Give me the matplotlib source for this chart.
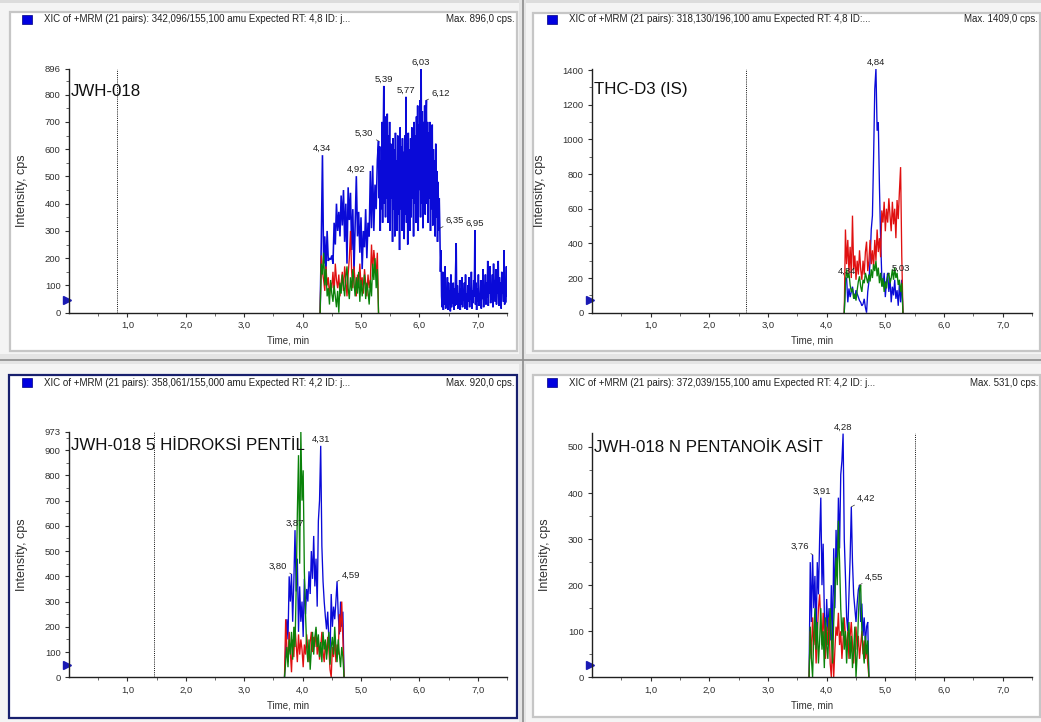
import numpy as np
import matplotlib
matplotlib.use('Agg')
import matplotlib.pyplot as plt
from matplotlib import font_manager
from matplotlib.patches import Rectangle
from matplotlib.ticker import FixedLocator

plt.rcParams['font.family'] = ['Liberation Sans', 'DejaVu Sans']

# compound names are set in a narrow face when one is available
_names = {f.name for f in font_manager.fontManager.ttflist}
if 'Liberation Sans Narrow' in _names:
    NAME_FONT, NAME_SIZE = ['Liberation Sans Narrow', 'DejaVu Sans'], 14.5
else:
    NAME_FONT, NAME_SIZE = ['Liberation Sans', 'DejaVu Sans'], 12.2

BLUE = '#0a0ad8'
RED = '#e01010'
GREEN = '#0a820a'

x_ticks = [1, 2, 3, 4, 5, 6, 7]
x_labels = ['1,0', '2,0', '3,0', '4,0', '5,0', '6,0', '7,0']
x_minor = [0.5, 1.5, 2.5, 3.5, 4.5, 5.5, 6.5, 7.5]

# ---------- JWH-018  342,096/155,100 ----------
# blue: 4.30-5.30 every 0.02 min, then 5.31-7.50 every 0.01 min
p1_blue_a = [0, 260, 578, 180, 280, 150, 300, 190, 200, 195, 210, 180, 330, 250, 400, 300,
             370, 280, 430, 320, 450, 260, 400, 180, 460, 340, 440, 230, 380, 150, 330, 501,
             280, 370, 220, 350, 160, 300, 240, 380, 200, 330, 280, 520, 310, 540, 300, 470,
             380, 560, 630]
p1_blue_b = [420, 610, 300, 560, 380, 700, 330, 640, 832, 400, 720, 350, 690, 420, 730, 330,
             650, 440, 700, 300, 620, 420, 580, 260, 640, 380, 600, 280, 660, 400, 560, 300,
             650, 360, 600, 230, 680, 380, 610, 300, 640, 420, 590, 270, 650, 360, 792, 330,
             620, 250, 660, 380, 600, 300, 640, 350, 680, 420, 610, 280, 700, 400, 650, 330,
             720, 420, 760, 300, 690, 450, 780, 350, 896, 400, 740, 310, 700, 430, 760, 360,
             680, 780, 400, 700, 330, 660, 420, 700, 300, 640, 380, 690, 320, 600, 400, 560,
             280, 620, 350, 520, 260, 480, 300, 420, 310, 150, 230, 60]
p1_blue_c = [20, 150, 10, 120, 30, 170, 15, 90, 40, 130, 10, 110, 30, 80, 5, 140,
             20, 60, 35, 110, 10, 90, 25, 160, 255, 30, 100, 15, 70, 40, 120, 10,
             90, 30, 130, 20, 80, 45, 110, 15, 140, 30, 70, 10, 100, 40, 130, 20,
             90, 50, 150, 15, 80, 35, 120, 60, 303, 30, 110, 10, 90, 40, 140, 25,
             70, 45, 120, 15, 100, 50, 160, 20, 90, 60, 140, 30, 110, 55, 190, 25,
             120, 70, 170, 35, 100, 50, 140, 20, 180, 60, 120, 40, 160, 30, 90, 70,
             190, 25, 130, 55, 110, 15, 150, 70, 120, 40, 230, 30, 100, 60, 170, 40]
# red / green: 4.30-5.30 every 0.02 min
p1_red = [0, 210, 150, 120, 80, 170, 100, 130, 60, 110, 90, 150, 70, 180, 120, 90,
          140, 60, 110, 150, 80, 170, 120, 60, 140, 200, 300, 150, 90, 170, 110, 60,
          140, 90, 180, 100, 130, 70, 160, 110, 60, 140, 90, 120, 250, 150, 230, 180,
          140, 220, 0]
p1_green = [0, 180, 140, 220, 100, 160, 60, 90, 30, 120, 70, 40, 100, 60, 20, 80,
            0, 110, 70, 140, 100, 60, 130, 170, 90, 50, 130, 80, 160, 110, 60, 130,
            70, 150, 40, 120, 60, 100, 140, 50, 110, 80, 30, 120, 60, 180, 120, 200,
            90, 160, 0]

# ---------- THC-D3 (IS)  318,130/196,100 ----------
# all traces 4.30-5.30 every 0.02 min
p2_blue = [0, 200, 200, 60, 140, 90, 120, 150, 100, 80, 130, 110, 90, 70, 60, 40,
           50, 80, 30, 0, 120, 180, 300, 480, 560, 900, 1290, 1409, 1050, 1100, 720, 420,
           200, 150, 230, 90, 180, 230, 120, 200, 60, 150, 100, 190, 80, 130, 40, 170,
           60, 190, 0]
p2_red = [0, 480, 280, 420, 230, 380, 200, 560, 250, 330, 190, 300, 220, 360, 250, 190,
          300, 220, 350, 410, 240, 300, 420, 280, 360, 260, 420, 300, 480, 350, 430, 320,
          590, 520, 640, 470, 600, 520, 660, 560, 470, 640, 510, 600, 430, 650, 540, 700,
          840, 330, 0]
p2_green = [0, 170, 250, 200, 230, 160, 120, 140, 80, 110, 70, 130, 180, 210, 150, 120,
            190, 170, 230, 200, 170, 220, 180, 250, 200, 280, 240, 300, 210, 260, 170, 230,
            150, 200, 120, 180, 140, 210, 230, 170, 200, 250, 190, 260, 200, 230, 160, 190,
            120, 170, 0]

# ---------- JWH-018 5 hidroksi pentil  358,061/155,000 ----------
# all traces 3.69-4.71 every 0.02 min
p3_blue = [0, 110, 230, 150, 400, 300, 410, 220, 380, 583, 340, 470, 180, 360, 220, 300,
           160, 390, 250, 350, 300, 420, 330, 500, 390, 560, 360, 470, 280, 620, 700, 917,
           520, 380, 300, 240, 190, 260, 150, 90, 330, 200, 280, 230, 300, 380, 250, 170,
           300, 200, 260, 0]
p3_red = [0, 230, 120, 60, 180, 100, 20, 150, 80, 200, 130, 60, 170, 90, 150, 110,
          40, 130, 90, 170, 110, 60, 140, 180, 100, 160, 120, 190, 90, 150, 70, 120,
          180, 100, 60, 140, 90, 160, 110, 30, 0, 120, 80, 160, 60, 130, 90, 250,
          180, 300, 150, 0]
p3_green = [0, 60, 120, 40, 150, 90, 180, 70, 200, 120, 350, 650, 880, 450, 973, 700,
            820, 420, 250, 120, 60, 150, 30, 110, 180, 90, 160, 200, 120, 170, 80, 140,
            60, 180, 110, 150, 70, 130, 180, 50, 120, 160, 90, 200, 120, 60, 150, 90,
            40, 120, 80, 0]

# ---------- JWH-018 N pentanoik asit  372,039/155,100 ----------
# all traces 3.70-4.72 every 0.02 min
p4_blue = [0, 250, 120, 266, 150, 220, 90, 250, 180, 300, 390, 200, 290, 140, 60, 170,
           100, 150, 80, 200, 60, 280, 150, 320, 230, 390, 280, 440, 470, 529, 300, 220,
           130, 100, 180, 260, 370, 250, 180, 150, 120, 160, 190, 200, 120, 160, 90, 130,
           70, 110, 120, 0]
p4_red = [0, 100, 40, 130, 70, 110, 30, 90, 150, 180, 120, 70, 140, 90, 40, 110,
          70, 130, 30, 0, 80, 0, 60, 110, 90, 140, 70, 100, 40, 80, 130, 90,
          60, 100, 40, 90, 120, 70, 30, 80, 110, 60, 90, 40, 70, 100, 50, 80,
          40, 70, 30, 0]
p4_green = [0, 110, 40, 0, 90, 150, 60, 120, 30, 80, 150, 60, 100, 20, 130, 70,
            40, 110, 150, 90, 30, 120, 180, 260, 200, 340, 250, 150, 90, 130, 60, 100,
            30, 80, 120, 40, 90, 20, 60, 110, 0, 50, 130, 190, 200, 100, 60, 30,
            90, 50, 80, 0]

# peak labels: text, time, intensity, dx px, dy px, align, leader line
p1_peaks = [("4,34", 4.34, 578, 0, 2, 'center', False),
            ("4,92", 4.92, 501, 0, 2, 'center', False),
            ("5,30", 5.30, 630, -5, 3, 'right', True),
            ("5,39", 5.39, 832, 0, 2, 'center', False),
            ("5,77", 5.77, 792, 0, 2, 'center', False),
            ("6,03", 6.03, 896, 0, 2, 'center', False),
            ("6,12", 6.12, 780, 5, 2, 'left', True),
            ("6,35", 6.35, 310, 6, 3, 'left', True),
            ("6,95", 6.95, 303, 0, 2, 'center', False)]
p2_peaks = [("4,84", 4.84, 1409, 0, 2, 'center', False),
            ("4,34", 4.34, 200, 0, 2, 'center', False),
            ("5,03", 5.03, 220, 5, 2, 'left', True)]
p3_peaks = [("3,80", 3.80, 410, -4, 3, 'right', True),
            ("3,87", 3.87, 583, 0, 2, 'center', False),
            ("4,31", 4.31, 917, 0, 2, 'center', False),
            ("4,59", 4.59, 380, 5, 2, 'left', True)]
p4_peaks = [("3,76", 3.76, 266, -3, 4, 'right', True),
            ("3,91", 3.91, 390, 0, 2, 'center', False),
            ("4,28", 4.28, 529, 0, 2, 'center', False),
            ("4,42", 4.42, 370, 6, 4, 'left', True),
            ("4,55", 4.55, 200, 6, 3, 'left', True)]

headers = ["XIC of +MRM (21 pairs): 342,096/155,100 amu Expected RT: 4,8 ID: j...",
           "XIC of +MRM (21 pairs): 318,130/196,100 amu Expected RT: 4,8 ID:...",
           "XIC of +MRM (21 pairs): 358,061/155,000 amu Expected RT: 4,2 ID: j...",
           "XIC of +MRM (21 pairs): 372,039/155,100 amu Expected RT: 4,2 ID: j..."]
max_labels = ["Max. 896,0 cps.", "Max. 1409,0 cps.", "Max. 920,0 cps.", "Max. 531,0 cps."]
names = ["JWH-018", "THC-D3 (IS)", "JWH-018 5 HİDROKSİ PENTİL", "JWH-018 N PENTANOİK ASİT"]


def times(start, step, vals):
    return start + step * np.arange(len(vals))


def draw_panel(ax, traces, ymax, ymajor, yminor, cutoff, name, name_y, peaks):
    for t, v, c, lw in traces:
        ax.plot(t, v, color=c, lw=lw, solid_joinstyle='miter')
    ax.set_xlim(0, 7.5)
    ax.set_ylim(0, ymax)
    ax.set_facecolor('none')
    for s in ['top', 'right']:
        ax.spines[s].set_visible(False)
    for s in ['left', 'bottom']:
        ax.spines[s].set_color('#202020')
        ax.spines[s].set_linewidth(1.0)
    ax.set_xticks(x_ticks)
    ax.set_xticklabels(x_labels)
    ax.xaxis.set_minor_locator(FixedLocator(x_minor))
    ax.set_yticks(ymajor)
    ax.set_yticklabels([str(v) for v in ymajor])
    ax.yaxis.set_minor_locator(FixedLocator(yminor))
    ax.tick_params(which='major', length=3, width=0.8, color='#303030',
                   labelsize=6.8, labelcolor='#303030', pad=3)
    ax.tick_params(which='minor', length=2, width=0.6, color='#505050')
    ax.set_xlabel('Time, min', fontsize=7, color='#303030', labelpad=4)
    ax.set_ylabel('Intensity, cps', fontsize=9, color='#303030', labelpad=12)

    ax.axvline(cutoff, color='#101010', lw=0.7, ls=(0, (1, 1.2)))
    ax.text(0.004, name_y, name, transform=ax.transAxes, fontsize=NAME_SIZE,
            family=NAME_FONT, color='#101010', va='center', ha='left')
    ax.plot([-0.004], [0.05], marker='>', ms=6, color='#1a1ab4',
            transform=ax.transAxes, clip_on=False)

    for txt, pt, pv, dx, dy, ha, lead in peaks:
        arrow = dict(arrowstyle='-', lw=0.5, color='#303030',
                     shrinkA=0, shrinkB=0) if lead else None
        ax.annotate(txt, (pt, pv), xytext=(dx, dy), textcoords='offset pixels',
                    ha=ha, va='bottom', fontsize=6.8, color='#202020',
                    arrowprops=arrow, annotation_clip=False)


fig = plt.figure(figsize=(10.41, 7.22), dpi=100)
fig.patch.set_facecolor('#f4f4f4')

# window frames, splitters and header lines, drawn in pixel units
bg = fig.add_axes([0, 0, 1, 1], zorder=0)
bg.set_xlim(0, 1041)
bg.set_ylim(722, 0)
bg.axis('off')
bg.add_patch(Rectangle((0, 0), 1041, 3, fc='#dcdcdc', ec='none'))
bg.add_patch(Rectangle((519, 0), 7, 722, fc='#e4e4e4', ec='none'))
bg.add_patch(Rectangle((0, 354), 1041, 10, fc='#e4e4e4', ec='none'))
bg.plot([522.5, 522.5], [0, 722], color='#8c8c8c', lw=1.2)
bg.plot([0, 1041], [360, 360], color='#8c8c8c', lw=1.2)

frames = [(10, 12, 507, 339, '#c6c6c6'), (533, 13, 507, 338, '#c6c6c6'),
          (9, 375, 508, 343, '#18206e'), (533, 375, 507, 342, '#c6c6c6')]
for (fx, fy, fw, fh, ec) in frames:
    bg.add_patch(Rectangle((fx, fy), fw, fh, fc='white', ec=ec, lw=1.6))

head_pos = [(22, 15, 44, 515), (547, 15, 569, 1038), (22, 378, 44, 515), (547, 378, 569, 1038)]
for (sx, sy, tx, mx), h, m in zip(head_pos, headers, max_labels):
    bg.add_patch(Rectangle((sx, sy), 10, 9, fc='#0000e0', ec='#000080', lw=0.5))
    bg.text(tx, sy + 4.5, h, fontsize=7.0, color='#202020', va='center', ha='left')
    bg.text(mx, sy + 4.5, m, fontsize=7.0, color='#202020', va='center', ha='right')

W, H = 1041.0, 722.0
ax1 = fig.add_axes([69 / W, (H - 312.7) / H, 438 / W, 244.2 / H], zorder=1)
ax2 = fig.add_axes([592 / W, (H - 312.7) / H, 440 / W, 244.2 / H], zorder=1)
ax3 = fig.add_axes([69 / W, (H - 677.3) / H, 438 / W, 245.6 / H], zorder=1)
ax4 = fig.add_axes([592 / W, (H - 677.3) / H, 440 / W, 244.6 / H], zorder=1)

p1_blue_t = np.concatenate([times(4.30, 0.02, p1_blue_a), times(5.31, 0.01, p1_blue_b),
                            times(6.39, 0.01, p1_blue_c)])
p1_blue = np.concatenate([p1_blue_a, p1_blue_b, p1_blue_c])

draw_panel(ax1,
           [(p1_blue_t, p1_blue, BLUE, 1.15),
            (times(4.30, 0.02, p1_red), p1_red, RED, 0.95),
            (times(4.30, 0.02, p1_green), p1_green, GREEN, 0.95)],
           896, [0, 100, 200, 300, 400, 500, 600, 700, 800, 896],
           list(range(50, 896, 100)), 0.83, names[0], 0.904, p1_peaks)

draw_panel(ax2,
           [(times(4.30, 0.02, p2_blue), p2_blue, BLUE, 0.95),
            (times(4.30, 0.02, p2_red), p2_red, RED, 0.95),
            (times(4.30, 0.02, p2_green), p2_green, GREEN, 0.95)],
           1409, [0, 200, 400, 600, 800, 1000, 1200, 1400],
           list(range(100, 1409, 200)), 2.63, names[1], 0.912, p2_peaks)

draw_panel(ax3,
           [(times(3.69, 0.02, p3_blue), p3_blue, BLUE, 0.95),
            (times(3.69, 0.02, p3_red), p3_red, RED, 0.95),
            (times(3.69, 0.02, p3_green), p3_green, GREEN, 0.95)],
           973, [0, 100, 200, 300, 400, 500, 600, 700, 800, 900, 973],
           list(range(50, 973, 100)), 1.46, names[2], 0.942, p3_peaks)

draw_panel(ax4,
           [(times(3.70, 0.02, p4_blue), p4_blue, BLUE, 0.95),
            (times(3.70, 0.02, p4_red), p4_red, RED, 0.95),
            (times(3.70, 0.02, p4_green), p4_green, GREEN, 0.95)],
           531, [0, 100, 200, 300, 400, 500],
           list(range(50, 531, 100)), 5.51, names[3], 0.94, p4_peaks)

fig.savefig('out.png', dpi=100, facecolor=fig.get_facecolor())
